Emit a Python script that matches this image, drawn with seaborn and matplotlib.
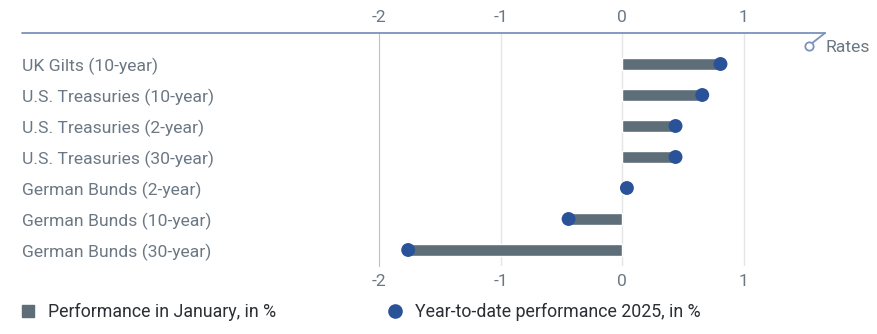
import matplotlib
matplotlib.use("Agg")
import matplotlib.pyplot as plt
from matplotlib.lines import Line2D
import seaborn as sns
import pandas as pd

categories = ["UK Gilts (10-year)", "U.S. Treasuries (10-year)", "U.S. Treasuries (2-year)",
              "U.S. Treasuries (30-year)", "German Bunds (2-year)", "German Bunds (10-year)",
              "German Bunds (30-year)"]
january = [0.80, 0.65, 0.43, 0.43, 0.02, -0.43, -1.75]
ytd = [0.81, 0.66, 0.44, 0.44, 0.04, -0.44, -1.76]
xticks = [-2, -1, 0, 1]

sns.set_theme(style="white")
plt.rcParams["font.family"] = ["Roboto", "DejaVu Sans"]

df = pd.DataFrame({"cat": categories, "jan": january, "ytd": ytd})

W, H = 878, 334
fig = plt.figure(figsize=(W / 100, H / 100), dpi=100)
L, R, T, B = 379, 825, 33, 265.5
ax = fig.add_axes([L / W, 1 - B / H, (R - L) / W, (B - T) / H])

bar_c = "#5e6e79"
dot_c = "#2a5298"
lab_c = "#6b7884"

sns.barplot(data=df, x="jan", y="cat", orient="h", color=bar_c, saturation=1,
            width=0.4, ax=ax, zorder=2)
sns.scatterplot(data=df, x="ytd", y="cat", color=dot_c, s=100, edgecolor="none",
                ax=ax, zorder=3, legend=False)

ax.set_xlim(-2, 1.67)
ax.set_ylim(6.5, -1)
ax.set_xticks(xticks)
ax.set_xticklabels([str(v) for v in xticks])
for v in xticks[1:]:
    ax.axvline(v, color="#e3e5e7", lw=1, zorder=0)
for s in ["top", "right", "bottom"]:
    ax.spines[s].set_visible(False)
ax.spines["left"].set_color("#bcc1c5")
ax.spines["left"].set_linewidth(0.8)
ax.set_xlabel("")
ax.set_ylabel("")
ax.tick_params(axis="x", top=True, labeltop=True, bottom=True, labelbottom=True,
               length=0, pad=6, labelsize=12.5, labelcolor=lab_c)
ax.tick_params(axis="y", length=0, pad=(L - 22) * 0.72, labelsize=12.6, labelcolor=lab_c)
for t in ax.get_yticklabels():
    t.set_ha("left")

# top rule with "Rates" marker
line_c = "#7b92bb"
fig.add_artist(Line2D([22 / W, R / W], [1 - T / H, 1 - T / H], color=line_c, lw=1.3,
                      transform=fig.transFigure))
fig.add_artist(Line2D([R / W, 811 / W], [1 - T / H, 1 - 44 / H], color=line_c, lw=1.3,
                      transform=fig.transFigure))
fig.add_artist(Line2D([809 / W], [1 - 46 / H], marker="o", markersize=6,
                      markerfacecolor="white", markeredgecolor=line_c, markeredgewidth=1.3,
                      transform=fig.transFigure))
fig.text(826 / W, 1 - 47 / H, "Rates", ha="left", va="center", fontsize=12.6, color=lab_c)

legend_items = [
    ("Performance in January, in %", "s", bar_c, 8, 19),
    ("Year-to-date performance 2025, in %", "o", dot_c, 9.5, 386),
]
for label, mk, col, ms, xpx in legend_items:
    h = Line2D([], [], marker=mk, ls="none", color=col, markersize=ms)
    fig.legend([h], [label], loc="center left", bbox_to_anchor=(xpx / W, 1 - 312 / H),
               frameon=False, fontsize=12.8, borderpad=0, borderaxespad=0,
               handletextpad=0.63, handlelength=1.0, labelcolor="#2b2f33")

fig.savefig("out.png", dpi=100)
